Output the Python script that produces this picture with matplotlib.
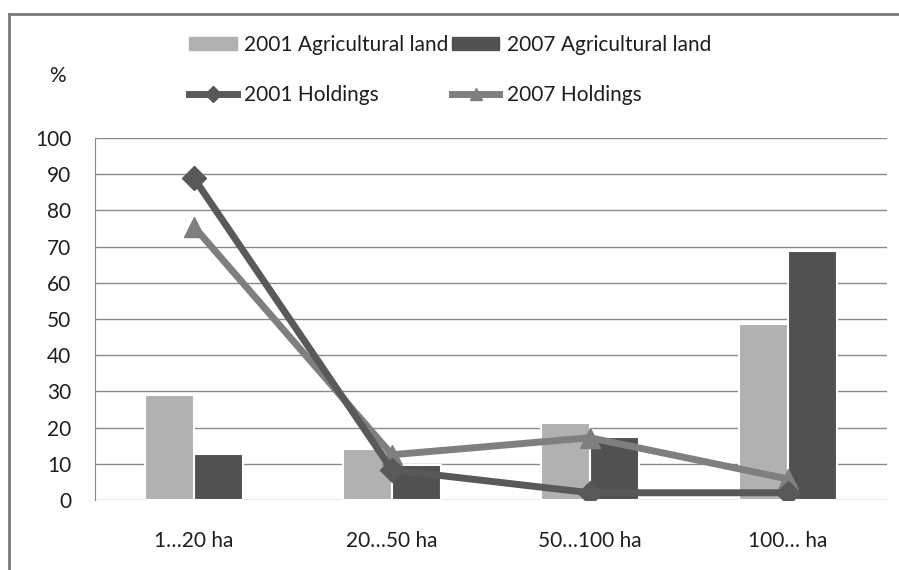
import numpy as np
import matplotlib.pyplot as plt
from matplotlib.lines import Line2D
from matplotlib.patches import Patch

plt.rcParams['font.family'] = ['Lato', 'DejaVu Sans']

# farm size classes
categories = ['1…20 ha', '20…50 ha', '50…100 ha', '100… ha']

# share of agricultural land, %
land_2001 = [29, 14, 21.3, 48.5]
land_2007 = [12.7, 9.7, 17.4, 68.8]

# share of holdings, %
hold_2001 = [88.9, 8.3, 2, 2]
hold_2007 = [75.5, 12.5, 17.2, 5.8]

c_land01 = '#b1b1b1'
c_land07 = '#515151'
c_hold01 = '#595959'
c_hold07 = '#7f7f7f'
txt = '#1e1e1e'
fs = 15

fig = plt.figure(figsize=(8.99, 5.70), dpi=100)
ax = fig.add_axes([95 / 899, 70 / 570, 792 / 899, 362 / 570])

x = np.arange(len(categories))
w = 0.245
ax.bar(x - w / 2, land_2001, w, color=c_land01, edgecolor='white', linewidth=1.5, zorder=2)
ax.bar(x + w / 2, land_2007, w, color=c_land07, edgecolor='white', linewidth=1.5, zorder=2)

ax.plot(x, hold_2007, color=c_hold07, lw=5, marker='^', ms=14, zorder=3)
ax.plot(x, hold_2001, color=c_hold01, lw=5, marker='D', ms=12, zorder=4)

ax.set_xlim(-0.5, 3.5)
ax.set_ylim(0, 100)
ax.set_yticks(range(0, 101, 10))
ax.set_xticks(x)
ax.set_xticklabels(categories)
ax.yaxis.grid(True, color='#8a8a8a', lw=1)
ax.set_axisbelow(True)
ax.tick_params(length=0, labelsize=fs, colors=txt)
ax.tick_params(axis='y', pad=17)
ax.tick_params(axis='x', pad=22)
for s in ['top', 'right', 'bottom']:
    ax.spines[s].set_visible(False)
ax.spines['left'].set_color('#8a8a8a')

fig.text(57 / 899, 1 - 76 / 570, '%', fontsize=fs, color=txt, ha='center', va='center')

handles = [Patch(color=c_land01),
           Line2D([], [], color=c_hold01, lw=5, marker='D', ms=8),
           Patch(color=c_land07),
           Line2D([], [], color=c_hold07, lw=5, marker='^', ms=9)]
labels = ['2001 Agricultural land', '2001 Holdings',
          '2007 Agricultural land', '2007 Holdings']
fig.legend(handles, labels, ncol=2, loc='center', bbox_to_anchor=(450 / 899, 1 - 70 / 570),
           frameon=False, fontsize=fs, labelcolor=txt, handlelength=2.3, handleheight=0.6,
           handletextpad=0.35, columnspacing=0.15, labelspacing=1.45)

# chart frame
fig.add_artist(Line2D([9 / 899, 9 / 899], [0, 1 - 14 / 570], color='#7a7a7a', lw=2,
                      transform=fig.transFigure))
fig.add_artist(Line2D([9 / 899, 1], [1 - 14 / 570, 1 - 14 / 570], color='#7a7a7a', lw=2,
                      transform=fig.transFigure))

fig.savefig('out.png', dpi=100)
